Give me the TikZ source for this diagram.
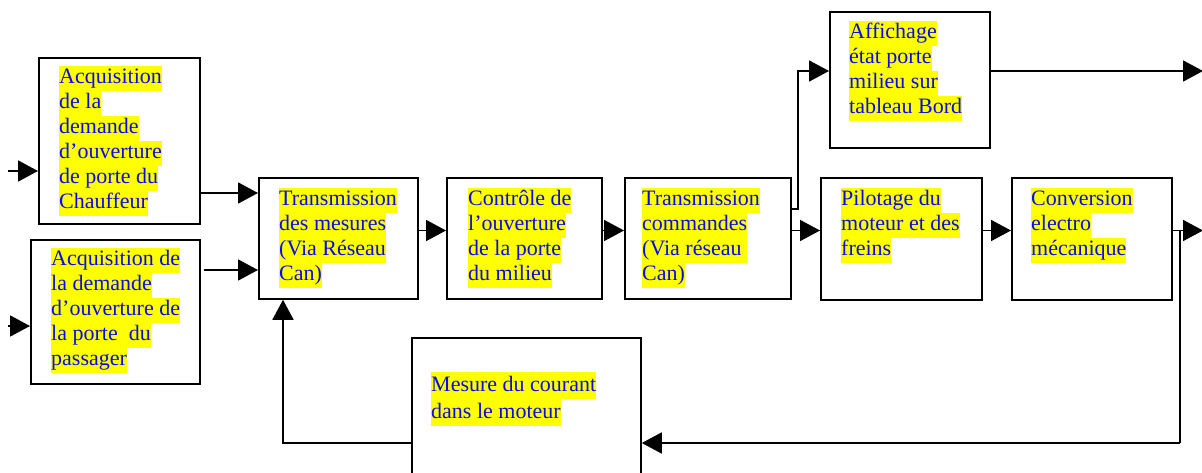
\documentclass[tikz,border=0pt]{standalone}
\usepackage{fontspec}
\setmainfont{Liberation Serif}
\usetikzlibrary{arrows.meta}
\definecolor{hlyellow}{RGB}{255,255,0}
\definecolor{txtblue}{RGB}{10,10,235}
% one highlighted line of text, the highlight spanning the full line height
\newcommand{\hlline}[1]{{\setlength{\fboxsep}{0pt}\colorbox{hlyellow}{\strut #1}}}
\tikzset{
  block/.style={draw, line width=1.8pt, inner sep=0pt, anchor=north west},
  txt/.style={anchor=north west, inner sep=0pt, align=left, text=txtblue,
              font=\fontsize{22}{25}\selectfont},
  wire/.style={line width=1.8pt},
  arr/.style={wire, -{Triangle[length=20pt,width=21pt]}}
}
\begin{document}
\begin{tikzpicture}[x=1pt,y=-1pt]
\clip (0,0) rectangle (1202,473);
\fill[white] (0,0) rectangle (1202,473);

% blocks
\node[block, minimum width=161pt, minimum height=166pt] (a1) at (38,57) {};
\node[block, minimum width=169pt, minimum height=144pt] (a2) at (30,239) {};
\node[block, minimum width=159pt, minimum height=121pt] (t1) at (258,177) {};
\node[block, minimum width=155pt, minimum height=121pt] (c)  at (446,177) {};
\node[block, minimum width=166pt, minimum height=121pt] (t2) at (624,177) {};
\node[block, minimum width=160pt, minimum height=136pt] (aff) at (829,11) {};
\node[block, minimum width=161pt, minimum height=122pt] (p)  at (820,177) {};
\node[block, minimum width=160pt, minimum height=122pt] (cv) at (1011,177) {};
\node[block, minimum width=229pt, minimum height=170pt] (m)  at (411,337) {};

% block texts
\node[txt] (a1t) at (59,66) {\hlline{Acquisition}\\\hlline{de la}\\\hlline{demande}\\\hlline{d’ouverture}\\\hlline{de porte du}\\\hlline{Chauffeur}};
\node[txt] (a2t) at (51,248) {\hlline{Acquisition de}\\\hlline{la demande}\\\hlline{d’ouverture de}\\\hlline{la porte ~du}\\\hlline{passager}};
\node[txt] (t1t) at (279,188) {\hlline{Transmission}\\\hlline{des mesures}\\\hlline{(Via Réseau}\\\hlline{Can)}};
\node[txt] (ct)  at (468,188) {\hlline{Contrôle de}\\\hlline{l’ouverture}\\\hlline{de la porte}\\\hlline{du milieu}};
\node[txt] (t2t) at (642,188) {\hlline{Transmission}\\\hlline{commandes}\\\hlline{(Via réseau }\\\hlline{Can)}};
\node[txt] (afft) at (849,21) {\hlline{Affichage}\\\hlline{état porte}\\\hlline{milieu sur}\\\hlline{tableau Bord}};
\node[txt] (pt)  at (841,188) {\hlline{Pilotage du}\\\hlline{moteur et des}\\\hlline{freins}};
\node[txt] (cvt) at (1031,188) {\hlline{Conversion}\\\hlline{electro}\\\hlline{mécanique}};
\node[txt, font=\fontsize{22}{27}\selectfont] (mt) at (431,372) {\hlline{Mesure du courant}\\\hlline{dans le moteur}};

% connector levels and bends
\coordinate (in1) at (8,171);
\coordinate (in2) at (8,326);
\coordinate (lv1) at (0,193);
\coordinate (s2)  at (204,270);
\coordinate (lvm) at (0,230.5);
\coordinate (br)  at (798,209);
\coordinate (lva) at (0,71);
\coordinate (out1) at (1203,71);
\coordinate (out2) at (1203,230.5);
\coordinate (fb)  at (1180,230.5);
\coordinate (fbb) at (1180,443);
\coordinate (ret) at (283,443);

% inputs
\draw[arr] (in1) -- (in1 -| a1.west);
\draw[arr] (in2) -- (in2 -| a2.west);
\draw[arr] (a1.east |- lv1) -- (t1.west |- lv1);
\draw[arr] (s2) -- (s2 -| t1.west);

% main chain
\draw[arr] (t1.east |- lvm) -- (c.west |- lvm);
\draw[arr] (c.east |- lvm) -- (t2.west |- lvm);
\draw[arr] (t2.east |- lvm) -- (p.west |- lvm);
\draw[arr] (p.east |- lvm) -- (cv.west |- lvm);
\draw[arr] (cv.east |- lvm) -- (out2);

% display branch
\draw[arr] (t2.east |- br) -- (br) |- (aff.west |- lva);
\draw[arr] (aff.east |- lva) -- (out1);

% current feedback loop
\draw[wire] (fb) -- (fbb);
\draw[arr] (fbb) -- (fbb -| m.east);
\draw[arr] (m.west |- ret) -- (ret) -- (ret |- t1.south);
\end{tikzpicture}
\end{document}
